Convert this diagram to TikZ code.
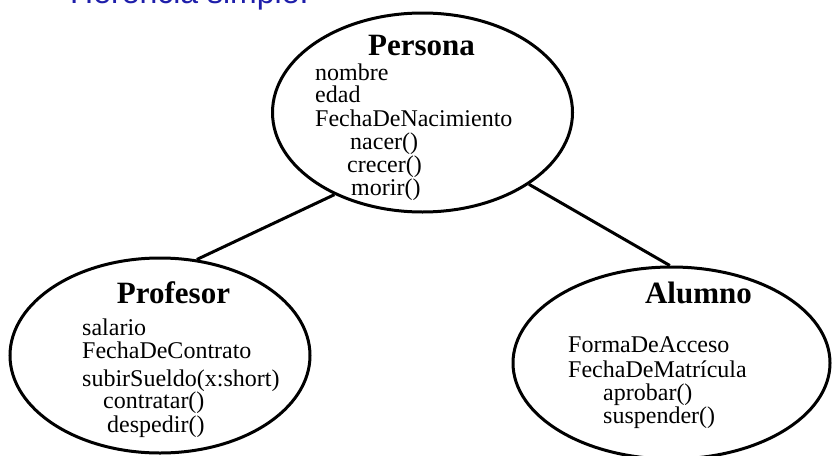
\documentclass[tikz,border=0pt]{standalone}
\usepackage{fontspec}
\setmainfont{Liberation Serif}
\newfontfamily\arialf{Liberation Sans}
\usetikzlibrary{shapes.geometric}
\definecolor{titleblue}{RGB}{30,30,170}
\tikzset{
  cls/.style={draw=black, line width=3pt, ellipse, inner sep=0pt},
  conn/.style={draw=black, line width=3pt},
  ttl/.style={anchor=base, inner sep=0pt, font=\fontsize{31}{31}\selectfont\bfseries},
  txt/.style={anchor=base west, inner sep=0pt, font=\fontsize{24}{24}\selectfont},
  head/.style={anchor=base west, inner sep=0pt, text=titleblue, font=\fontsize{32}{32}\selectfont\arialf}
}
\begin{document}
\begin{tikzpicture}[x=1pt,y=-1pt]
\clip (0,0) rectangle (832,455);
\fill[white] (0,0) rectangle (832,455);
\node[head] (title) at (70,3) {Herencia simple.};
% classes
\node[cls, minimum width=300pt, minimum height=199pt] (persona) at (422.5,112.5) {};
\node[cls, minimum width=300pt, minimum height=195pt] (profesor) at (160,355.5) {};
\node[cls, minimum width=317pt, minimum height=192pt] (alumno) at (671.5,363) {};
% connectors
\draw[conn] (persona.223) -- (profesor.69);
\draw[conn] (persona.326) -- (alumno.91);
% Persona
\node[ttl] (pt) at (421.5,55) {Persona};
\node[txt] (p1) at (315,80) {nombre};
\node[txt] (p2) at (315,102) {edad};
\node[txt] (p3) at (315,126) {FechaDeNacimiento};
\node[txt] (p4) at (350,149) {nacer()};
\node[txt] (p5) at (347,172) {crecer()};
\node[txt] (p6) at (351,195) {morir()};
% Profesor
\node[ttl] (prt) at (173.5,303) {Profesor};
\node[txt] (r1) at (82,335) {salario};
\node[txt] (r2) at (82,358) {FechaDeContrato};
\node[txt] (r3) at (82,386) {subirSueldo(x:short)};
\node[txt] (r4) at (103,408) {contratar()};
\node[txt] (r5) at (107,432) {despedir()};
% Alumno
\node[ttl] (at) at (698.5,303) {Alumno};
\node[txt] (a1) at (568,352) {FormaDeAcceso};
\node[txt] (a2) at (568,377) {FechaDeMatrícula};
\node[txt] (a3) at (603,400) {aprobar()};
\node[txt] (a4) at (603,423) {suspender()};
\end{tikzpicture}
\end{document}
